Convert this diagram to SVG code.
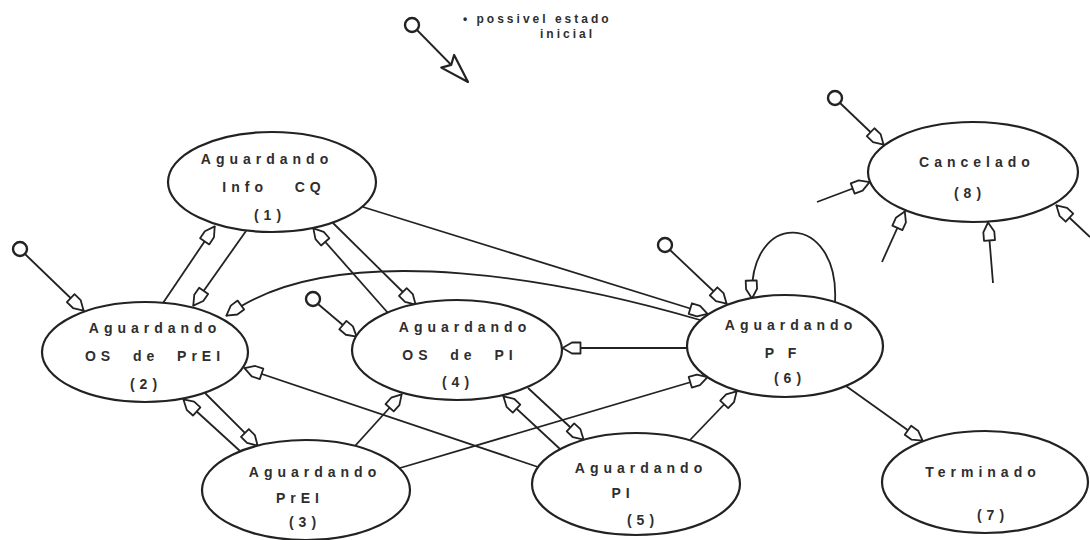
<svg xmlns="http://www.w3.org/2000/svg" width="1090" height="540" viewBox="0 0 1090 540">
<defs>
<style>
.st{fill:#fff;stroke:#222;stroke-width:2.2}
.lbl{font-family:"Liberation Sans",Arial,sans-serif;font-weight:bold;font-size:14px;letter-spacing:5px;fill:#2e2e2e;text-anchor:middle;white-space:pre}
.leg{font-family:"Liberation Sans",Arial,sans-serif;font-weight:bold;font-size:12px;letter-spacing:3px;fill:#2e2e2e;white-space:pre}
.ln{fill:none;stroke:#222;stroke-width:1.8}
.ar{marker-end:url(#open)}
.init{fill:#fff;stroke:#222;stroke-width:2.4}
</style>
<marker id="open" viewBox="0 0 21 14" markerWidth="21" markerHeight="14" refX="20" refY="7" orient="auto" markerUnits="userSpaceOnUse">
<path d="M1.5,1.5 L10,1.5 L19.5,7 L10,12.5 L1.5,12.5 Z" fill="#fff" stroke="#222" stroke-width="1.8" stroke-linejoin="round"/>
</marker>
<marker id="big" viewBox="0 0 32 22" markerWidth="32" markerHeight="22" refX="31" refY="11" orient="auto" markerUnits="userSpaceOnUse">
<path d="M2,2 L31,11 L2,20 L7,11 Z" fill="#fff" stroke="#222" stroke-width="2.2" stroke-linejoin="round"/>
</marker>
</defs>
<rect width="1090" height="540" fill="#fff"/>

<g id="connectors">
<path class="ln" d="M417,30 L468,82" marker-end="url(#big)"/>
<path class="ln ar" d="M25,254 L84,311"/>
<path class="ln ar" d="M318,304 L357,337"/>
<path class="ln ar" d="M670,250 L727,304"/>
<path class="ln ar" d="M840,103 L884,145"/>
<path class="ln ar" d="M163,303 L215,226"/>
<path class="ln ar" d="M246,231 L193,306"/>
<path class="ln ar" d="M388,313 L313,228"/>
<path class="ln ar" d="M333,223 L416,305"/>
<path class="ln ar" d="M363,207 L708,314"/>
<path class="ln ar" d="M700,320 C580,285 340,232 226,316"/>
<path class="ln ar" d="M687,348 L562,348"/>
<path class="ln ar" d="M400,468 L708,377"/>
<path class="ln ar" d="M690,440 L737,391"/>
<path class="ln ar" d="M355,446 L402,394"/>
<path class="ln ar" d="M560,449 L503,396"/>
<path class="ln ar" d="M528,388 L584,440"/>
<path class="ln ar" d="M205,393 L258,446"/>
<path class="ln ar" d="M240,451 L183,399"/>
<path class="ln ar" d="M538,467 L244,368"/>
<path class="ln ar" d="M835,302 C840,212 748,208 752,299"/>
<path class="ln ar" d="M846,386 L923,441"/>
<path class="ln ar" d="M817,202 L870,182"/>
<path class="ln ar" d="M882,262 L905,211"/>
<path class="ln ar" d="M993,283 L988,222"/>
<path class="ln ar" d="M1090,237 L1056,205"/>
</g>

<g id="legend">
<circle class="init" cx="412" cy="25" r="7"/>
<text class="leg" x="463" y="23">• possivel estado</text>
<text class="leg" x="540" y="38">inicial</text>
</g>

<g id="init-2"><circle class="init" cx="20" cy="249" r="7"/></g>
<g id="init-4"><circle class="init" cx="313" cy="299" r="7"/></g>
<g id="init-6"><circle class="init" cx="665" cy="245" r="7"/></g>
<g id="init-8"><circle class="init" cx="835" cy="98" r="7"/></g>

<g id="node1">
<ellipse class="st" cx="272" cy="182" rx="104" ry="50"/>
<text class="lbl" x="267" y="164">Aguardando</text>
<text class="lbl" x="274" y="192">Info   CQ</text>
<text class="lbl" x="270" y="220">(1)</text>
</g>
<g id="node2">
<ellipse class="st" cx="145" cy="352" rx="103" ry="50"/>
<text class="lbl" x="155" y="333">Aguardando</text>
<text class="lbl" x="155" y="361">OS  de  PrEI</text>
<text class="lbl" x="146" y="389">(2)</text>
</g>
<g id="node3">
<ellipse class="st" cx="306" cy="490" rx="104" ry="50"/>
<text class="lbl" x="315" y="477">Aguardando</text>
<text class="lbl" x="300" y="503">PrEI</text>
<text class="lbl" x="305" y="527">(3)</text>
</g>
<g id="node4">
<ellipse class="st" cx="457" cy="350" rx="105" ry="50"/>
<text class="lbl" x="465" y="332">Aguardando</text>
<text class="lbl" x="460" y="360">OS  de  PI</text>
<text class="lbl" x="458" y="387">(4)</text>
</g>
<g id="node5">
<ellipse class="st" cx="636" cy="484" rx="104" ry="51"/>
<text class="lbl" x="641" y="473">Aguardando</text>
<text class="lbl" x="623" y="498">PI</text>
<text class="lbl" x="643" y="525">(5)</text>
</g>
<g id="node6">
<ellipse class="st" cx="785" cy="346" rx="98" ry="51"/>
<text class="lbl" x="791" y="330">Aguardando</text>
<text class="lbl" x="783" y="358">P F</text>
<text class="lbl" x="790" y="383">(6)</text>
</g>
<g id="node7">
<ellipse class="st" cx="985" cy="482" rx="103" ry="51"/>
<text class="lbl" x="983" y="477">Terminado</text>
<text class="lbl" x="993" y="520">(7)</text>
</g>
<g id="node8">
<ellipse class="st" cx="973" cy="172" rx="105" ry="50"/>
<text class="lbl" x="977" y="167">Cancelado</text>
<text class="lbl" x="970" y="198">(8)</text>
</g>
</svg>
